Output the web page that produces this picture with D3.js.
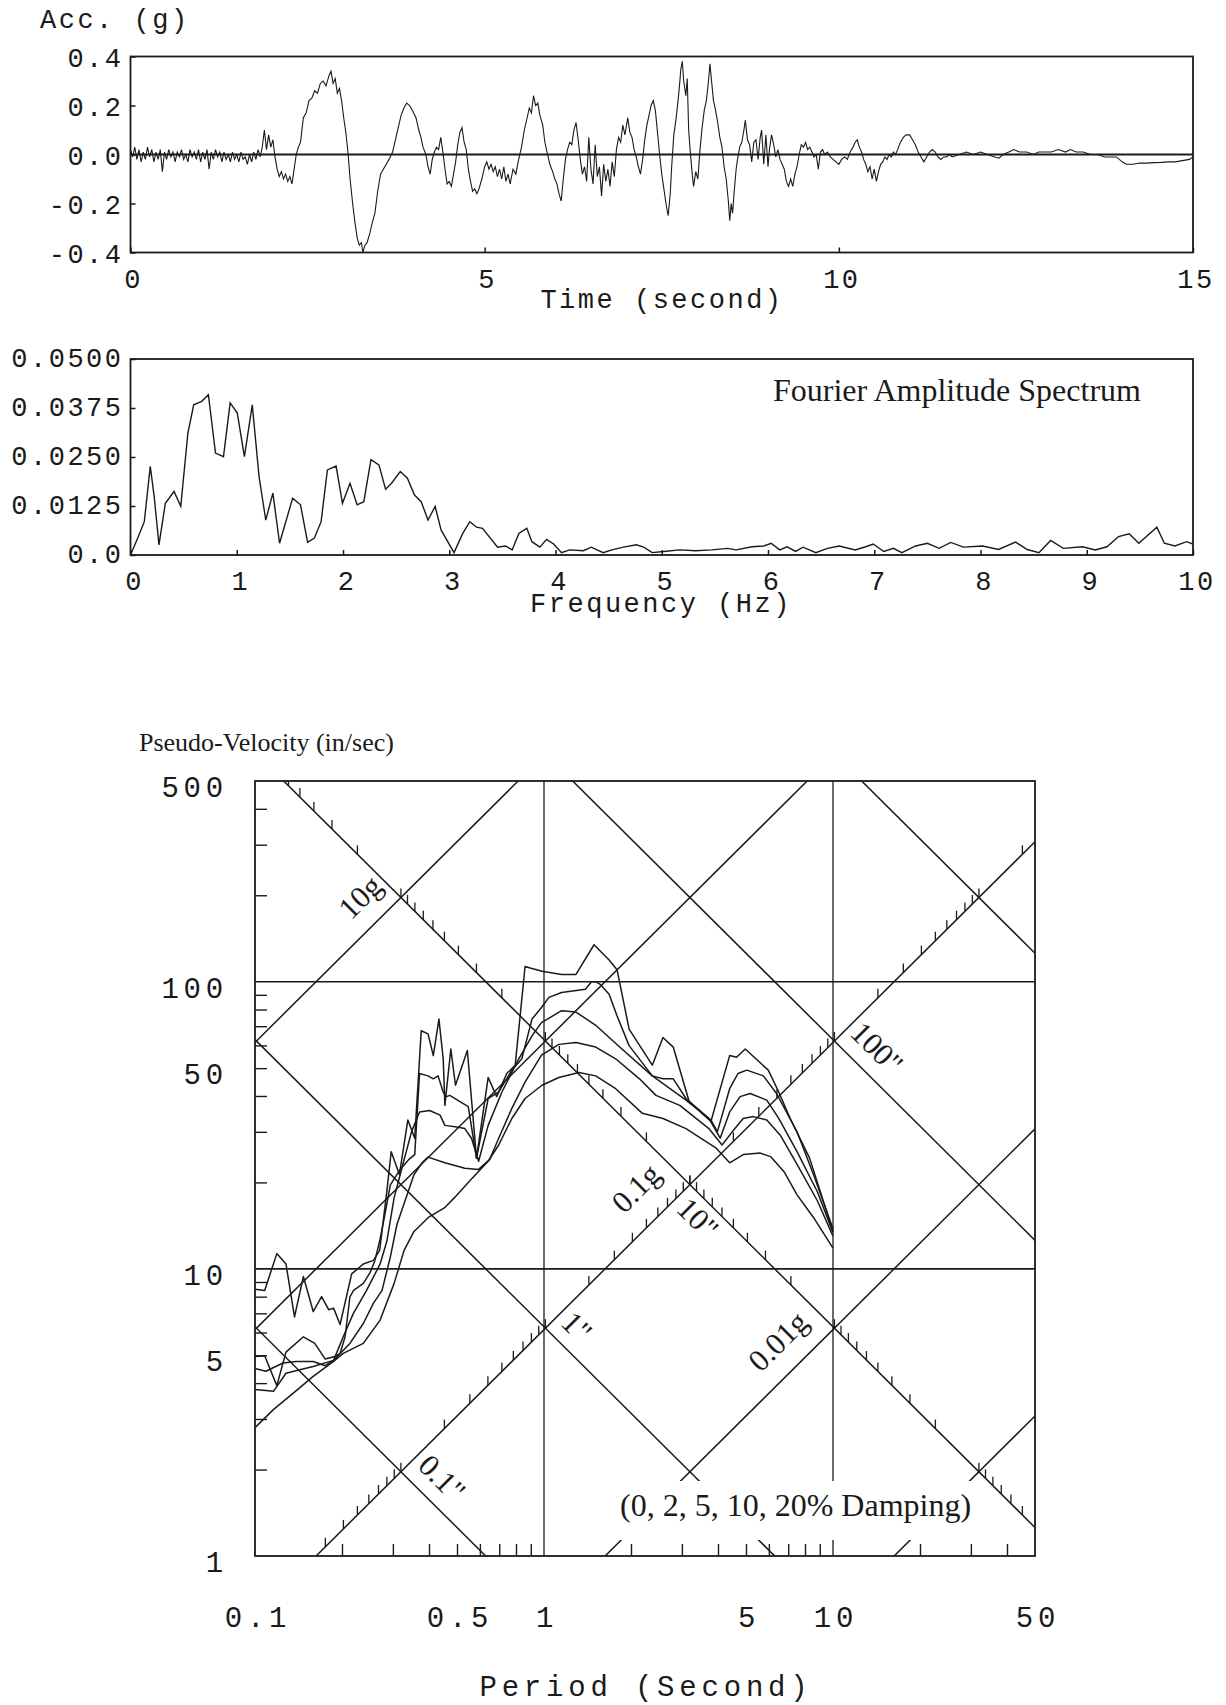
<!DOCTYPE html>
<html>
<head>
<meta charset="utf-8">
<script src="https://cdn.jsdelivr.net/npm/d3@7"></script>
<style>
  body { margin: 0; background: #fff; }
  .mono { font-family: "Liberation Mono", "Courier New", monospace; fill: #1a1a1a; }
  .serif { font-family: "Liberation Serif", "Times New Roman", serif; fill: #1a1a1a; }
</style>
</head>
<body>
<svg id="chart" width="1226" height="1705"></svg>
<script>
// ground acceleration record, [time (s), acc (g)]
const accel = [
  [0.00,0.02],[0.03,-0.01],[0.06,0.03],[0.09,-0.02],[0.12,0.02],[0.15,-0.03],[0.18,0.01],[0.21,-0.02],
  [0.24,0.03],[0.27,-0.01],[0.30,0.02],[0.33,-0.03],[0.36,0.01],[0.39,-0.02],[0.42,0.02],[0.45,-0.07],
  [0.48,0.01],[0.51,-0.02],[0.54,0.02],[0.57,-0.01],[0.60,0.01],[0.63,-0.03],[0.66,0.01],[0.69,-0.01],
  [0.72,0.02],[0.75,-0.02],[0.78,0.00],[0.81,-0.03],[0.84,0.02],[0.87,-0.01],[0.90,0.01],[0.93,-0.02],
  [0.96,0.02],[0.99,-0.03],[1.02,0.01],[1.05,-0.02],[1.08,0.02],[1.11,-0.06],[1.14,0.01],[1.17,-0.02],
  [1.20,0.02],[1.23,-0.01],[1.26,0.01],[1.29,-0.03],[1.32,0.01],[1.35,-0.02],[1.38,0.00],[1.41,-0.03],
  [1.44,0.01],[1.47,-0.02],[1.50,0.00],[1.53,-0.03],[1.56,0.01],[1.59,-0.02],[1.62,-0.01],[1.65,-0.04],
  [1.68,0.00],[1.71,-0.03],[1.74,0.01],[1.77,-0.02],[1.80,0.02],[1.83,-0.01],[1.86,0.03],[1.89,0.10],
  [1.92,0.02],[1.95,0.08],[1.98,0.03],[2.01,0.06],[2.04,-0.01],[2.07,-0.06],[2.10,-0.09],[2.13,-0.07],
  [2.16,-0.10],[2.19,-0.08],[2.22,-0.11],[2.25,-0.09],[2.28,-0.12],[2.31,-0.06],[2.34,0.00],[2.37,0.03],
  [2.40,0.05],[2.44,0.15],[2.48,0.17],[2.52,0.22],[2.56,0.23],[2.60,0.26],[2.64,0.25],[2.68,0.29],
  [2.72,0.30],[2.76,0.28],[2.80,0.32],[2.83,0.34],[2.86,0.29],[2.89,0.31],[2.92,0.25],[2.95,0.27],
  [2.98,0.22],[3.01,0.15],[3.04,0.09],[3.07,0.01],[3.10,-0.10],[3.14,-0.21],[3.17,-0.28],[3.20,-0.34],
  [3.23,-0.37],[3.26,-0.36],[3.28,-0.40],[3.31,-0.37],[3.34,-0.36],[3.38,-0.32],[3.42,-0.27],[3.45,-0.24],
  [3.49,-0.15],[3.53,-0.08],[3.57,-0.06],[3.61,-0.04],[3.65,-0.02],[3.70,0.01],[3.74,0.06],[3.78,0.11],
  [3.82,0.16],[3.86,0.19],[3.90,0.21],[3.94,0.20],[3.98,0.18],[4.03,0.15],[4.07,0.10],[4.10,0.07],
  [4.13,0.03],[4.17,0.00],[4.20,-0.05],[4.23,-0.08],[4.26,-0.02],[4.29,0.01],[4.32,0.03],[4.35,0.02],
  [4.38,0.07],[4.41,0.01],[4.44,-0.06],[4.47,-0.12],[4.50,-0.11],[4.53,-0.13],[4.56,-0.08],[4.59,-0.03],
  [4.62,0.04],[4.65,0.09],[4.68,0.11],[4.71,0.05],[4.74,0.02],[4.77,-0.06],[4.80,-0.11],[4.83,-0.15],
  [4.86,-0.14],[4.89,-0.16],[4.92,-0.14],[4.96,-0.10],[5.00,-0.05],[5.03,-0.03],[5.06,-0.06],[5.09,-0.04],
  [5.12,-0.07],[5.15,-0.05],[5.18,-0.09],[5.21,-0.06],[5.24,-0.10],[5.27,-0.05],[5.30,-0.11],[5.33,-0.08],
  [5.36,-0.12],[5.40,-0.06],[5.44,-0.08],[5.48,-0.02],[5.52,0.03],[5.56,0.10],[5.60,0.15],[5.63,0.19],
  [5.66,0.17],[5.69,0.24],[5.72,0.20],[5.75,0.21],[5.78,0.16],[5.82,0.12],[5.85,0.05],[5.88,0.01],
  [5.92,-0.04],[5.96,-0.07],[5.99,-0.10],[6.02,-0.12],[6.05,-0.16],[6.08,-0.19],[6.11,-0.10],[6.14,-0.02],
  [6.17,0.02],[6.20,0.05],[6.23,0.04],[6.26,0.10],[6.29,0.13],[6.32,0.06],[6.35,-0.02],[6.38,-0.08],
  [6.41,-0.05],[6.44,-0.11],[6.47,0.07],[6.50,-0.06],[6.53,-0.12],[6.56,0.04],[6.59,-0.09],[6.62,-0.05],
  [6.65,-0.17],[6.68,-0.04],[6.71,-0.11],[6.74,-0.06],[6.77,-0.13],[6.80,-0.03],[6.83,-0.09],[6.86,0.02],
  [6.89,0.07],[6.92,0.05],[6.95,0.12],[6.98,0.08],[7.02,0.15],[7.05,0.09],[7.08,0.07],[7.11,0.02],
  [7.14,-0.01],[7.17,-0.05],[7.20,-0.08],[7.23,-0.02],[7.26,0.06],[7.29,0.12],[7.32,0.16],[7.35,0.20],
  [7.38,0.22],[7.41,0.18],[7.44,0.09],[7.47,0.00],[7.50,-0.08],[7.53,-0.14],[7.56,-0.20],[7.59,-0.25],
  [7.62,-0.16],[7.64,-0.05],[7.67,0.08],[7.70,0.14],[7.73,0.22],[7.75,0.28],[7.77,0.35],[7.79,0.38],
  [7.81,0.30],[7.84,0.24],[7.86,0.31],[7.88,0.10],[7.90,0.02],[7.93,-0.08],[7.95,-0.13],[7.98,-0.07],
  [8.01,-0.10],[8.04,0.02],[8.07,0.11],[8.10,0.18],[8.13,0.22],[8.16,0.30],[8.18,0.37],[8.21,0.28],
  [8.23,0.22],[8.26,0.18],[8.29,0.13],[8.32,0.07],[8.35,0.03],[8.38,-0.05],[8.41,-0.10],[8.44,-0.19],
  [8.46,-0.27],[8.48,-0.20],[8.50,-0.24],[8.52,-0.16],[8.55,-0.06],[8.57,-0.02],[8.60,0.03],[8.63,0.05],
  [8.66,0.10],[8.68,0.14],[8.71,0.06],[8.74,0.04],[8.77,-0.03],[8.80,0.05],[8.83,0.06],[8.86,-0.02],
  [8.89,0.07],[8.91,0.10],[8.94,-0.04],[8.97,0.08],[9.00,-0.05],[9.02,0.02],[9.05,0.08],[9.08,0.04],
  [9.11,-0.01],[9.14,0.02],[9.17,-0.02],[9.20,-0.04],[9.23,-0.06],[9.26,-0.11],[9.29,-0.13],[9.32,-0.10],
  [9.35,-0.13],[9.38,-0.08],[9.41,-0.05],[9.44,0.00],[9.47,0.04],[9.50,0.03],[9.53,0.05],[9.56,0.02],
  [9.59,0.03],[9.62,0.01],[9.65,-0.01],[9.68,0.00],[9.71,-0.06],[9.74,0.01],[9.77,0.02],[9.80,0.00],
  [9.84,0.01],[9.88,-0.01],[9.92,-0.02],[9.96,-0.03],[10.00,-0.04],[10.04,-0.02],[10.08,-0.01],[10.12,-0.02],
  [10.16,0.01],[10.20,0.03],[10.23,0.05],[10.26,0.06],[10.29,0.03],[10.32,0.01],[10.35,-0.02],[10.38,-0.04],
  [10.41,-0.07],[10.44,-0.05],[10.47,-0.10],[10.50,-0.06],[10.53,-0.11],[10.56,-0.07],[10.59,-0.04],[10.62,-0.03],
  [10.65,-0.01],[10.68,-0.02],[10.71,0.00],[10.74,-0.01],[10.77,0.01],[10.80,0.00],[10.83,0.02],[10.87,0.05],
  [10.91,0.07],[10.95,0.08],[11.00,0.08],[11.04,0.06],[11.08,0.04],[11.12,0.01],[11.16,-0.01],[11.20,-0.03],
  [11.24,-0.01],[11.28,0.01],[11.32,0.02],[11.36,0.01],[11.40,-0.01],[11.44,-0.02],[11.48,-0.01],[11.52,-0.01],
  [11.56,0.00],[11.60,-0.01],[11.70,0.00],[11.80,0.01],[11.90,0.00],[12.00,0.01],[12.10,0.00],[12.20,-0.01],
  [12.26,-0.015],[12.32,0.00],[12.40,0.01],[12.47,0.02],[12.55,0.01],[12.65,0.01],[12.75,0.00],[12.82,0.01],
  [12.90,0.01],[13.00,0.01],[13.10,0.02],[13.20,0.01],[13.27,0.02],[13.35,0.01],[13.45,0.01],[13.55,0.00],
  [13.66,0.00],[13.75,-0.01],[13.85,-0.01],[13.92,-0.01],[14.00,-0.03],[14.06,-0.04],[14.15,-0.04],[14.25,-0.035],
  [14.35,-0.035],[14.45,-0.033],[14.55,-0.032],[14.65,-0.03],[14.75,-0.03],[14.85,-0.025],[14.95,-0.02],[15.00,-0.01]
];
const accTicks = [-0.4, -0.2, 0, 0.2, 0.4];
const accTickLabels = ["-0.4", "-0.2", "0.0", "0.2", "0.4"];
const timeTicks = [0, 5, 10, 15];

// Fourier amplitude spectrum, [frequency (Hz), amplitude]
const fourier = [
  [0,0],[0.074,0.0047],[0.13,0.0085],[0.186,0.0226],[0.223,0.0149],[0.268,0.0026],[0.328,0.0132],[0.41,0.0162],
  [0.473,0.0124],[0.54,0.0311],[0.595,0.0383],[0.67,0.0392],[0.733,0.0409],[0.80,0.026],[0.875,0.0251],[0.938,0.0388],
  [1.005,0.0362],[1.072,0.0251],[1.146,0.0383],[1.21,0.02],[1.273,0.0089],[1.34,0.0158],[1.403,0.003],[1.526,0.0145],
  [1.6,0.0128],[1.667,0.0032],[1.73,0.0043],[1.794,0.0085],[1.853,0.0217],[1.935,0.0227],[1.995,0.0132],[2.066,0.0183],
  [2.133,0.0128],[2.196,0.0136],[2.263,0.0243],[2.338,0.023],[2.401,0.0168],[2.457,0.0183],[2.539,0.0213],[2.606,0.0196],
  [2.673,0.0153],[2.736,0.0136],[2.8,0.0089],[2.867,0.0124],[2.923,0.0064],[3.045,0.0006],[3.127,0.0055],[3.194,0.0085],
  [3.257,0.0071],[3.313,0.0068],[3.455,0.002],[3.529,0.0023],[3.592,0.0013],[3.655,0.0055],[3.73,0.0068],[3.778,0.0034],
  [3.853,0.002],[3.916,0.004],[3.983,0.0028],[4.057,0.0006],[4.132,0.0013],[4.262,0.0011],[4.337,0.002],[4.449,0.0006],
  [4.53,0.0013],[4.64,0.002],[4.76,0.0026],[4.83,0.002],[4.91,0.0006],[5.02,0.0009],[5.17,0.0013],[5.32,0.0011],
  [5.47,0.0013],[5.62,0.0017],[5.7,0.0013],[5.85,0.0021],[5.96,0.0023],[6.03,0.003],[6.11,0.0013],[6.18,0.0021],
  [6.26,0.0009],[6.33,0.002],[6.45,0.0006],[6.56,0.0017],[6.67,0.0023],[6.82,0.0013],[6.92,0.0021],[6.99,0.0028],
  [7.09,0.0009],[7.18,0.0017],[7.26,0.0006],[7.39,0.0023],[7.5,0.003],[7.61,0.0017],[7.72,0.0032],[7.84,0.002],
  [8.02,0.0023],[8.17,0.0014],[8.33,0.0033],[8.44,0.0014],[8.55,0.0006],[8.66,0.0037],[8.78,0.0017],[8.96,0.0021],
  [9.08,0.0013],[9.19,0.0021],[9.3,0.0047],[9.4,0.0054],[9.49,0.003],[9.66,0.0071],[9.73,0.003],[9.83,0.0023],
  [9.94,0.0034],[10,0.0028]
];
const ampTicks = [0, 0.0125, 0.025, 0.0375, 0.05];
const ampTickLabels = ["0.0", "0.0125", "0.0250", "0.0375", "0.0500"];
const freqTicks = [0, 1, 2, 3, 4, 5, 6, 7, 8, 9, 10];

// pseudo-velocity spectra, [period (s), PSV (in/sec)]
const damp0 = [
  [0.100,8.5],[0.108,8.4],[0.119,11.3],[0.128,10.4],[0.137,6.8],[0.147,9.4],[0.159,7.1],[0.170,8.0],
  [0.180,7.2],[0.187,7.3],[0.197,6.4],[0.216,9.6],[0.237,10.4],[0.257,10.7],[0.270,11.6],[0.286,18.7],
  [0.296,25.6],[0.316,21.3],[0.338,33.0],[0.357,28.5],[0.376,67.5],[0.397,65.8],[0.414,55.3],[0.433,74.1],
  [0.448,53.9],[0.454,37.1],[0.476,58.3],[0.494,43.6],[0.543,57.6],[0.584,24.3],[0.641,46.4],[0.686,39.8],
  [0.743,47.9],[0.795,51.2],[0.86,113],[0.896,111.6],[0.984,108.8],[1.15,106],[1.29,106],[1.49,134.5],
  [1.68,119],[1.79,110],[1.97,68.4],[2.37,51.2],[2.58,63.9],[2.80,59.2],[3.18,38.2],[3.78,32.6],
  [4.39,55.3],[4.64,54.6],[4.97,58.3],[5.97,49.2],[6.49,41.3],[7.11,33.4],[8.3,24.3],[10,13.5]
];
const damp2 = [
  [0.100,4.95],[0.108,4.98],[0.119,3.92],[0.128,5.13],[0.147,5.8],[0.161,5.5],[0.175,4.85],[0.189,4.95],
  [0.197,5.08],[0.205,5.8],[0.213,7.98],[0.219,8.4],[0.237,8.9],[0.250,9.7],[0.260,10.7],[0.270,12.5],
  [0.283,15.9],[0.294,19.6],[0.316,22],[0.340,24],[0.357,25],[0.371,47.9],[0.397,47],[0.414,45.9],
  [0.430,47],[0.448,41.2],[0.460,39.8],[0.472,40.2],[0.512,38.2],[0.547,36.7],[0.584,24.3],[0.641,39.2],
  [0.697,41.3],[0.774,49.2],[0.838,53.9],[0.909,74.1],[0.98,81.3],[1.04,88.2],[1.15,91.7],[1.39,94.2],
  [1.46,100],[1.51,100],[1.57,97.6],[1.68,90.5],[1.79,76],[1.97,59.9],[2.37,47],[2.58,45.9],
  [2.80,45.9],[3.10,39.2],[3.78,33],[3.98,30.0],[4.39,42.4],[4.69,47.9],[5.03,49.2],[5.74,47],
  [6.38,40.8],[7.51,30],[8.56,21.3],[10,13.8]
];
const damp5 = [
  [0.100,4.5],[0.109,4.4],[0.125,4.7],[0.139,4.76],[0.159,4.76],[0.175,4.6],[0.187,4.8],[0.202,5.8],
  [0.219,7.0],[0.243,8.4],[0.271,10.4],[0.286,12.5],[0.303,17.7],[0.318,21.3],[0.348,30],[0.371,35.2],
  [0.402,35.6],[0.437,34.3],[0.454,31.6],[0.499,31.2],[0.532,30.8],[0.561,28.5],[0.594,23.7],[0.641,31.6],
  [0.715,41.3],[0.818,53.9],[0.91,64.9],[0.98,72],[1.15,79.3],[1.29,78.4],[1.51,70.5],[1.86,58.3],
  [2.37,47],[3.10,38.7],[3.72,33.4],[4.07,28.5],[4.39,35.2],[4.77,39.8],[5.17,40.8],[5.90,38.7],
  [6.49,33.4],[7.51,25.6],[8.82,18.6],[10,13.4]
];
const damp10 = [
  [0.100,3.8],[0.116,3.75],[0.128,4.33],[0.143,4.45],[0.159,4.57],[0.187,4.8],[0.213,5.5],[0.237,6.45],
  [0.257,7.6],[0.275,8.4],[0.294,11],[0.310,14.3],[0.336,18.1],[0.355,21.3],[0.380,23.5],[0.397,24.5],
  [0.454,23.4],[0.532,22.4],[0.594,22.2],[0.648,24],[0.697,28.5],[0.774,36.2],[0.86,44.7],[0.98,55.5],
  [1.126,60.5],[1.29,61.4],[1.51,59.2],[1.77,53.9],[2.14,45.9],[2.44,40.2],[2.95,37.1],[3.72,30.8],
  [4.13,27.0],[4.48,30],[4.89,33.4],[5.3,33.9],[5.9,33],[6.57,29.2],[7.51,23.1],[8.82,17.3],[10,13]
];
const damp20 = [
  [0.100,2.8],[0.116,3.24],[0.136,3.7],[0.159,4.22],[0.187,4.76],[0.202,5.08],[0.237,5.5],[0.271,6.63],
  [0.303,8.9],[0.328,11.6],[0.355,13.5],[0.398,15.1],[0.452,16.3],[0.490,17.7],[0.560,20.5],[0.641,23.7],
  [0.697,27],[0.774,33.4],[0.86,39.2],[0.984,43.6],[1.126,46.4],[1.32,48.3],[1.51,47],[1.77,42.4],
  [2.19,34.8],[2.58,33.4],[3.10,30.8],[3.93,26.4],[4.39,23.4],[4.89,25],[5.6,25.3],[6.08,24.6],
  [6.77,21.8],[7.51,18.1],[8.56,15.1],[10,11.8]
];
const periodTicks = [0.1, 0.5, 1, 5, 10, 50];
const periodTickLabels = ["0.1", "0.5", "1", "5", "10", "50"];
const psvTicks = [1, 5, 10, 50, 100, 500];
const accelLinesG = [10, 1, 0.1, 0.01, 0.001];
const dispLinesIn = [0.1, 1, 10, 100, 1000];
const diagLabels = [
  { text: "10g", T: 0.231, psv: 197, angle: -45 },
  { text: "0.1g", T: 2.08, psv: 19.1, angle: -45 },
  { text: "0.01g", T: 6.45, psv: 5.6, angle: -45 },
  { text: "100\"", T: 14.2, psv: 58.8, angle: 45 },
  { text: "10\"", T: 3.41, psv: 15.0, angle: 45 },
  { text: "1\"", T: 1.30, psv: 6.28, angle: 45 },
  { text: "0.1\"", T: 0.444, psv: 1.87, angle: 45 }
];

const svg = d3.select("#chart");
const ink = "#1a1a1a";
const defs = svg.append("defs");

function clipRect(id, p) {
  defs.append("clipPath").attr("id", id).append("rect")
    .attr("x", p.left).attr("y", p.top)
    .attr("width", p.right - p.left).attr("height", p.bottom - p.top);
}
function frame(p) {
  svg.append("rect").attr("x", p.left).attr("y", p.top)
    .attr("width", p.right - p.left).attr("height", p.bottom - p.top)
    .attr("fill", "none").attr("stroke", ink).attr("stroke-width", 1.8);
}
// monospace text in the style of the old plotter labels
function mono(sel, size, spacing) {
  return sel.attr("class", "mono").attr("font-size", size).attr("letter-spacing", spacing);
}

// ---------- acceleration time history ----------
const p1 = { left: 130.5, right: 1193, top: 56.5, bottom: 252.5 };
const x1 = d3.scaleLinear().domain([0, 15]).range([p1.left, p1.right]);
const y1 = d3.scaleLinear().domain([-0.4, 0.4]).range([p1.bottom, p1.top]);
clipRect("clip1", p1);

svg.append("line").attr("x1", p1.left).attr("x2", p1.right)
  .attr("y1", y1(0)).attr("y2", y1(0)).attr("stroke", ink).attr("stroke-width", 1.8);

svg.append("path").datum(accel)
  .attr("clip-path", "url(#clip1)")
  .attr("fill", "none").attr("stroke", ink).attr("stroke-width", 1.1)
  .attr("d", d3.line().x(d => x1(d[0])).y(d => y1(d[1])));

svg.append("g").attr("transform", `translate(${p1.left},0)`)
  .call(d3.axisLeft(y1).tickValues(accTicks).tickSize(-5).tickFormat(""))
  .call(g => g.select(".domain").remove())
  .selectAll("line").attr("stroke", ink).attr("stroke-width", 1.5);
svg.append("g").attr("transform", `translate(0,${p1.bottom})`)
  .call(d3.axisBottom(x1).tickValues(timeTicks).tickSize(-5).tickFormat(""))
  .call(g => g.select(".domain").remove())
  .selectAll("line").attr("stroke", ink).attr("stroke-width", 1.5);
frame(p1);

svg.append("g").selectAll("text").data(accTicks).join("text")
  .call(mono, 27, 2.5).attr("text-anchor", "end")
  .attr("x", p1.left - 7).attr("y", d => y1(d) + 10)
  .text((d, i) => accTickLabels[i]);
svg.append("g").selectAll("text").data(timeTicks).join("text")
  .call(mono, 27, 2.5).attr("text-anchor", "middle")
  .attr("x", d => x1(d) + 3).attr("y", 288)
  .text(d => d);
svg.append("text").call(mono, 27, 2.5).attr("x", 40).attr("y", 28).text("Acc. (g)");
svg.append("text").call(mono, 27, 2.5)
  .attr("text-anchor", "middle").attr("x", 662).attr("y", 308).text("Time (second)");

// ---------- Fourier amplitude spectrum ----------
const p2 = { left: 130.5, right: 1193, top: 359, bottom: 555 };
const x2 = d3.scaleLinear().domain([0, 10]).range([p2.left, p2.right]);
const y2 = d3.scaleLinear().domain([0, 0.05]).range([p2.bottom, p2.top]);
clipRect("clip2", p2);

svg.append("path").datum(fourier)
  .attr("clip-path", "url(#clip2)")
  .attr("fill", "none").attr("stroke", ink).attr("stroke-width", 1.4)
  .attr("d", d3.line().x(d => x2(d[0])).y(d => y2(d[1])));

svg.append("g").attr("transform", `translate(${p2.left},0)`)
  .call(d3.axisLeft(y2).tickValues(ampTicks).tickSize(-5).tickFormat(""))
  .call(g => g.select(".domain").remove())
  .selectAll("line").attr("stroke", ink).attr("stroke-width", 1.5);
svg.append("g").attr("transform", `translate(0,${p2.bottom})`)
  .call(d3.axisBottom(x2).tickValues(freqTicks).tickSize(-5).tickFormat(""))
  .call(g => g.select(".domain").remove())
  .selectAll("line").attr("stroke", ink).attr("stroke-width", 1.5);
frame(p2);

svg.append("g").selectAll("text").data(ampTicks).join("text")
  .call(mono, 27, 2.5).attr("text-anchor", "end")
  .attr("x", p2.left - 7).attr("y", d => y2(d) + 8)
  .text((d, i) => ampTickLabels[i]);
svg.append("g").selectAll("text").data(freqTicks).join("text")
  .call(mono, 27, 2.5).attr("text-anchor", "middle")
  .attr("x", d => x2(d) + 4).attr("y", 590)
  .text(d => d);
svg.append("text").call(mono, 27, 2.5)
  .attr("text-anchor", "middle").attr("x", 661).attr("y", 612).text("Frequency (Hz)");
svg.append("text").attr("class", "serif").attr("font-size", 32)
  .attr("x", 773).attr("y", 401).text("Fourier Amplitude Spectrum");

// ---------- tripartite pseudo-velocity spectrum ----------
const p3 = { left: 255, right: 1035, top: 781, bottom: 1556 };
const x3 = d3.scaleLog().domain([0.1, 50]).range([p3.left, p3.right]);
const y3 = d3.scaleLog().domain([1, 500]).range([p3.bottom, p3.top]);
clipRect("clip3", p3);
const G = 386.09; // in/s^2
const plot3 = svg.append("g").attr("clip-path", "url(#clip3)");
const lineTP = d3.line().x(d => x3(d[0])).y(d => y3(d[1]));

// horizontal / vertical grid
plot3.selectAll(".hgrid").data([10, 100]).join("line")
  .attr("x1", p3.left).attr("x2", p3.right)
  .attr("y1", d => y3(d)).attr("y2", d => y3(d))
  .attr("stroke", ink).attr("stroke-width", 1.6);
plot3.selectAll(".vgrid").data([1, 10]).join("line")
  .attr("y1", p3.top).attr("y2", p3.bottom)
  .attr("x1", d => x3(d)).attr("x2", d => x3(d))
  .attr("stroke", ink).attr("stroke-width", 1.3);

// constant acceleration and displacement diagonals
const Tspan = [0.01, 1000];
plot3.selectAll(".acc").data(accelLinesG).join("path")
  .attr("fill", "none").attr("stroke", ink).attr("stroke-width", 1.5)
  .attr("d", a => lineTP(Tspan.map(T => [T, a * G * T / (2 * Math.PI)])));
plot3.selectAll(".disp").data(dispLinesIn).join("path")
  .attr("fill", "none").attr("stroke", ink).attr("stroke-width", 1.5)
  .attr("d", dd => lineTP(Tspan.map(T => [T, 2 * Math.PI * dd / T])));

// log ticks along the 10" displacement line (acceleration) and the 0.1g line (displacement)
const mult = d3.range(1, 10);
const accTickPts = d3.range(-4, 3).flatMap(k => mult.map(m => m * 10 ** k)).map(a => {
  const w = Math.sqrt(a * G / 10);
  return [2 * Math.PI / w, w * 10];
});
const dispTickPts = d3.range(-3, 4).flatMap(k => mult.map(m => m * 10 ** k)).map(dd => {
  const w = Math.sqrt(0.1 * G / dd);
  return [2 * Math.PI / w, 0.1 * G / w];
});
const inside = d => d[0] >= 0.1 && d[0] <= 50 && d[1] >= 1 && d[1] <= 500;
plot3.selectAll(".dtick").data(accTickPts.concat(dispTickPts).filter(inside)).join("line")
  .attr("x1", d => x3(d[0])).attr("x2", d => x3(d[0]))
  .attr("y1", d => y3(d[1])).attr("y2", d => y3(d[1]) - 9)
  .attr("stroke", ink).attr("stroke-width", 1.3);

// damping curves
plot3.selectAll(".curve").data([damp0, damp2, damp5, damp10, damp20]).join("path")
  .attr("fill", "none").attr("stroke", ink).attr("stroke-width", 1.5)
  .attr("stroke-linejoin", "round")
  .attr("d", lineTP);

// axis minor ticks (inside)
const psvMinor = d3.range(0, 3).flatMap(k => d3.range(2, 10).map(m => m * 10 ** k)).filter(v => v < 500);
const perMinor = d3.range(-1, 2).flatMap(k => d3.range(2, 10).map(m => m * 10 ** k)).filter(v => v < 50);
svg.append("g").attr("transform", `translate(${p3.left},0)`)
  .call(d3.axisLeft(y3).tickValues(psvMinor).tickSize(-12).tickFormat(""))
  .call(g => g.select(".domain").remove())
  .selectAll("line").attr("stroke", ink).attr("stroke-width", 1.4);
svg.append("g").attr("transform", `translate(0,${p3.bottom})`)
  .call(d3.axisBottom(x3).tickValues(perMinor).tickSize(-12).tickFormat(""))
  .call(g => g.select(".domain").remove())
  .selectAll("line").attr("stroke", ink).attr("stroke-width", 1.4);

// diagonal labels
svg.append("g").selectAll("text").data(diagLabels).join("text")
  .attr("class", "serif").attr("font-size", 31)
  .attr("text-anchor", "middle").attr("dominant-baseline", "central")
  .attr("transform", d => `translate(${x3(d.T)},${y3(d.psv)}) rotate(${d.angle})`)
  .text(d => d.text);

// damping legend on a white patch
svg.append("rect").attr("x", 612).attr("y", 1481).attr("width", 370).attr("height", 59).attr("fill", "#fff");
svg.append("text").attr("class", "serif").attr("font-size", 32)
  .attr("x", 620).attr("y", 1516).text("(0, 2, 5, 10, 20% Damping)");

frame(p3);

svg.append("g").selectAll("text").data(psvTicks).join("text")
  .call(mono, 29, 4.8).attr("text-anchor", "end")
  .attr("x", 228).attr("y", d => y3(d) + 16)
  .text(d => d);
svg.append("g").selectAll("text").data(periodTicks).join("text")
  .call(mono, 29, 4.8).attr("text-anchor", "middle")
  .attr("x", d => x3(d) + 3).attr("y", 1627)
  .text((d, i) => periodTickLabels[i]);
svg.append("text").call(mono, 29, 4.8)
  .attr("text-anchor", "middle").attr("x", 646).attr("y", 1696).text("Period (Second)");
svg.append("text").attr("class", "serif").attr("font-size", 26)
  .attr("x", 139).attr("y", 751).text("Pseudo-Velocity (in/sec)");
</script>
</body>
</html>
